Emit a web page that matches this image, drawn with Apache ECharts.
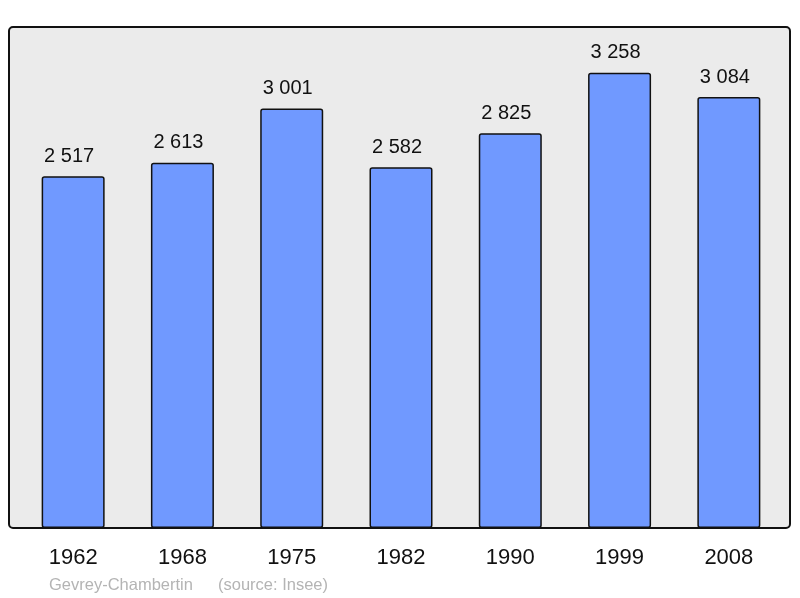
<!DOCTYPE html>
<html>
<head>
<meta charset="utf-8">
<script src="https://cdn.jsdelivr.net/npm/echarts@6/dist/echarts.min.js"></script>
<style>
  html, body { margin: 0; padding: 0; background: #fff; }
  #main { width: 800px; height: 598px; }
</style>
</head>
<body>
<div id="main"></div>
<script>
// census years and population
const years = ['1962', '1968', '1975', '1982', '1990', '1999', '2008']
const population = [2517, 2613, 3001, 2582, 2825, 3258, 3084]
const town = 'Gevrey-Chambertin'
const source = '(source: Insee)'

function fmt (v) {
  // french style thousands separator
  return String(v).replace(/\B(?=(\d{3})+(?!\d))/g, ' ')
}

const chart = echarts.init(document.getElementById('main'))

const option = {
  animation: false,
  grid: {
    left: 18.5,
    width: 765,
    top: 27,
    bottom: 70
  },
  graphic: [
    {
      type: 'rect',
      z: -10,
      shape: { x: 9, y: 27, width: 781, height: 501, r: 4 },
      style: { fill: '#ebebeb', stroke: '#111', lineWidth: 2 }
    },
    {
      type: 'text',
      left: 49,
      top: 577,
      style: {
        text: town,
        fill: '#b4b4b4',
        font: '16.5px "Liberation Sans", Arial, sans-serif'
      }
    },
    {
      type: 'text',
      left: 218,
      top: 577,
      style: {
        text: source,
        fill: '#b4b4b4',
        font: '16.5px "Liberation Sans", Arial, sans-serif'
      }
    }
  ],
  xAxis: {
    type: 'category',
    data: years,
    axisLine: { show: false },
    axisTick: { show: false },
    axisLabel: {
      color: '#111',
      fontSize: 22,
      fontFamily: 'Liberation Sans',
      margin: 19
    }
  },
  yAxis: {
    type: 'value',
    min: 0,
    max: 3585,
    show: false,
    splitLine: { show: false }
  },
  series: [
    {
      type: 'bar',
      data: population,
      barWidth: 63,
      itemStyle: {
        color: '#7099ff',
        borderColor: '#111',
        borderWidth: 1.5,
        borderRadius: 2
      },
      label: {
        show: true,
        position: 'top',
        distance: 10,
        offset: [-4, 0],
        color: '#111',
        fontSize: 20,
        fontFamily: 'Liberation Sans',
        formatter: (p) => fmt(p.value)
      }
    }
  ]
}

chart.setOption(option)
</script>
</body>
</html>
